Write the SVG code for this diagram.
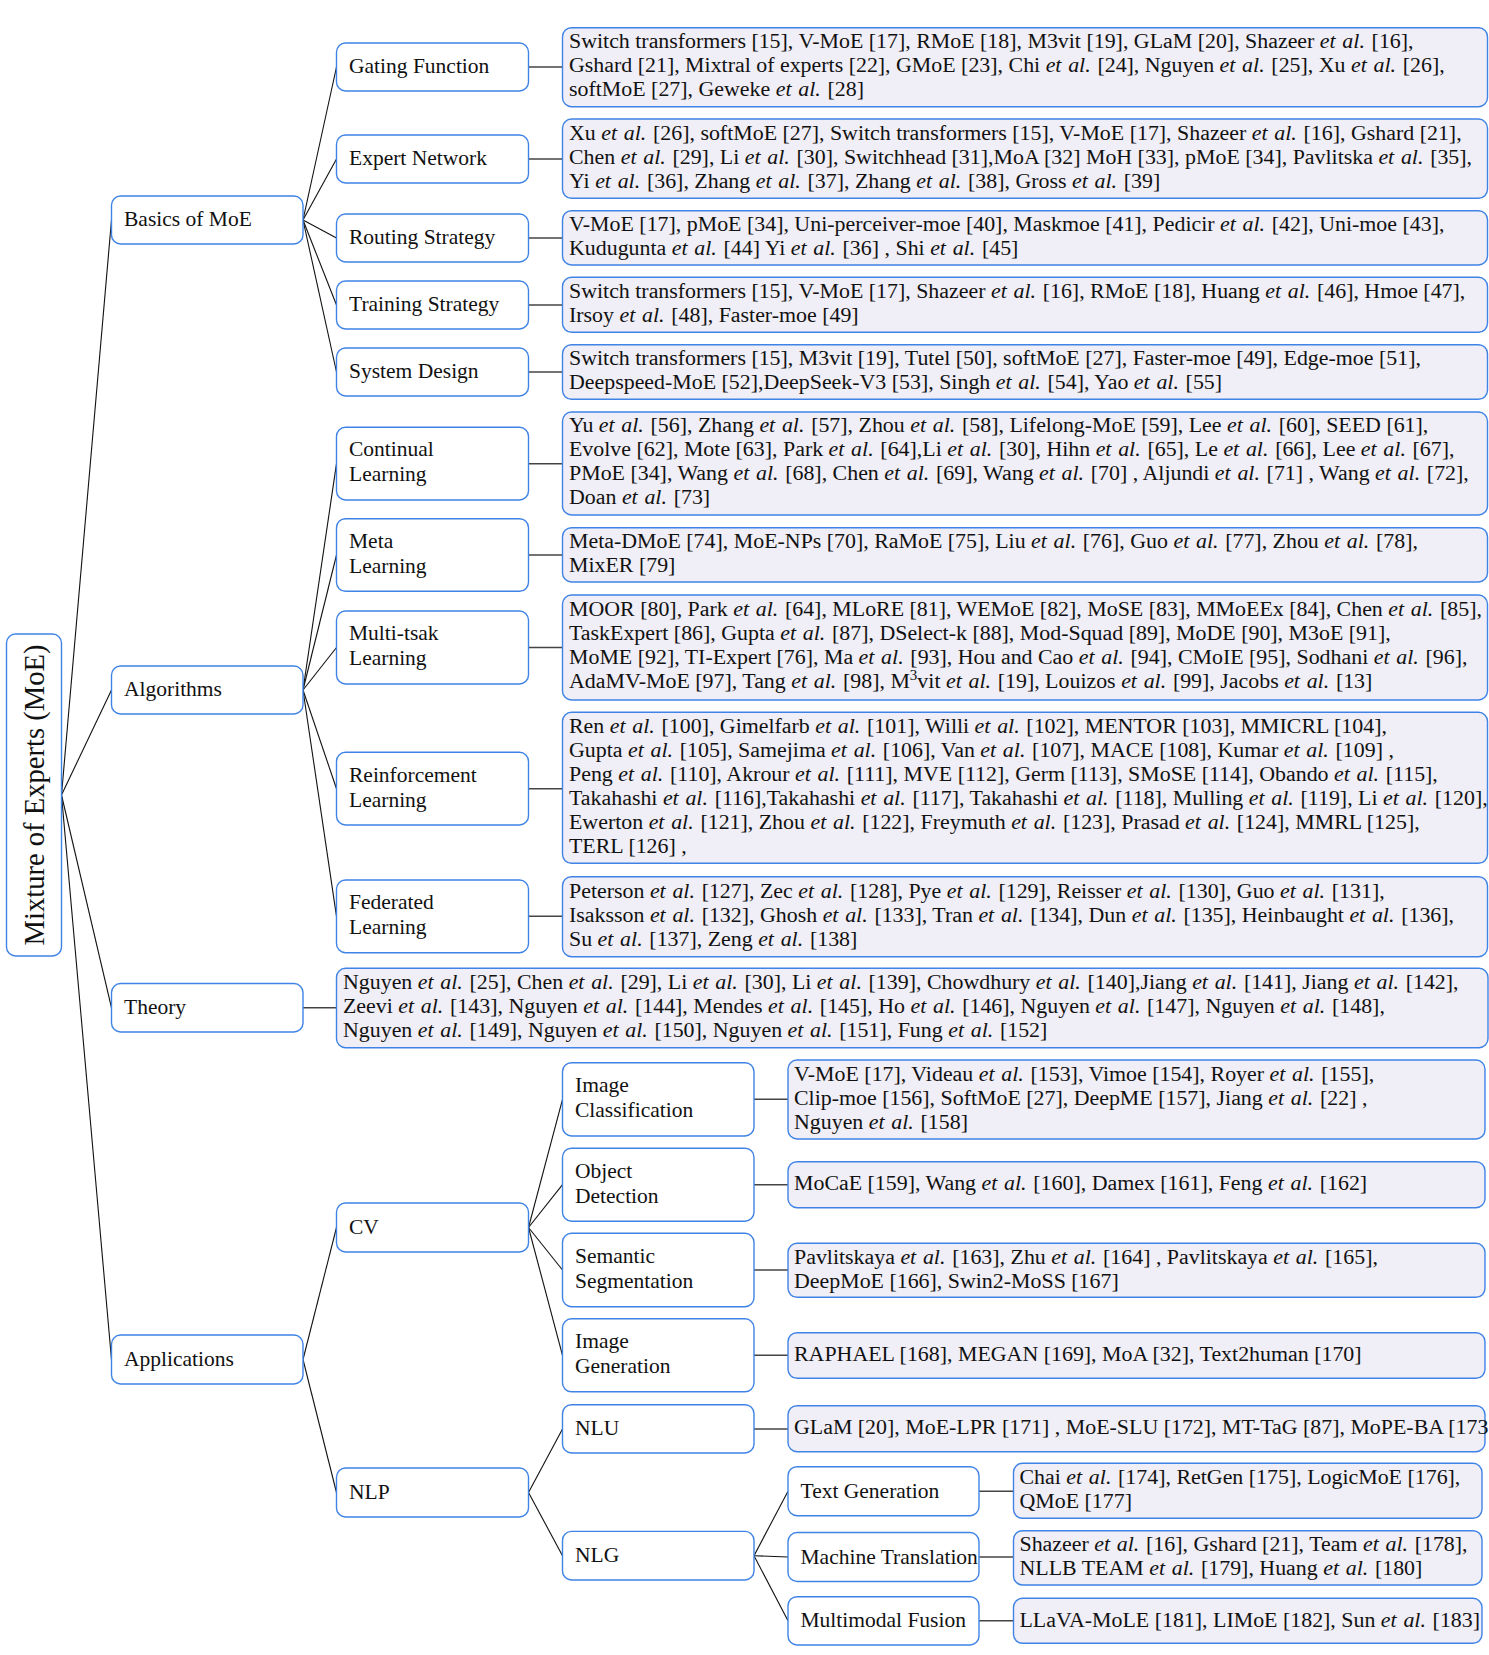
<svg xmlns="http://www.w3.org/2000/svg" width="1489" height="1655" viewBox="0 0 1489 1655">
  <style>
    .node { fill: #ffffff; stroke: #3f83e6; stroke-width: 1.4; }
    .leaf { fill: #f0eef6; stroke: #3f83e6; stroke-width: 1.4; }
    .lbl { font-family: "Liberation Serif", "Times New Roman", serif; font-size: 21.5px; fill: #111; }
    .ref { font-family: "Liberation Serif", "Times New Roman", serif; font-size: 21.9px; fill: #111; }
    /* "et al. " carries its trailing space; the extra word spacing mimics sentence spacing after the period */
    .it { font-style: italic; word-spacing: 1.25px; }
    .tree { stroke: #111; stroke-width: 1.1; fill: none; }
    .stub { stroke: #444; stroke-width: 1.5; fill: none; }
  </style>
  <rect width="1489" height="1655" fill="#ffffff"/>

  <!-- connectors -->
  <g id="connectors">
    <g class="tree">
      <!-- root to first level -->
      <line x1="61.5" y1="795" x2="111.5" y2="220"/>
      <line x1="61.5" y1="795" x2="111.5" y2="690"/>
      <line x1="61.5" y1="795" x2="111.5" y2="1007.8"/>
      <line x1="61.5" y1="795" x2="111.5" y2="1359.5"/>
      <!-- basics -->
      <line x1="303" y1="220" x2="336.5" y2="67"/>
      <line x1="303" y1="220" x2="336.5" y2="159"/>
      <line x1="303" y1="220" x2="336.5" y2="238"/>
      <line x1="303" y1="220" x2="336.5" y2="305"/>
      <line x1="303" y1="220" x2="336.5" y2="372"/>
      <!-- algorithms -->
      <line x1="303" y1="690" x2="336.5" y2="463.7"/>
      <line x1="303" y1="690" x2="336.5" y2="555"/>
      <line x1="303" y1="690" x2="336.5" y2="647.5"/>
      <line x1="303" y1="690" x2="336.5" y2="788.7"/>
      <line x1="303" y1="690" x2="336.5" y2="916.3"/>
      <!-- applications -->
      <line x1="303" y1="1359.5" x2="336.5" y2="1227.5"/>
      <line x1="303" y1="1359.5" x2="336.5" y2="1492.5"/>
      <!-- CV -->
      <line x1="528.5" y1="1227.5" x2="562.5" y2="1099.3"/>
      <line x1="528.5" y1="1227.5" x2="562.5" y2="1184.7"/>
      <line x1="528.5" y1="1227.5" x2="562.5" y2="1270"/>
      <line x1="528.5" y1="1227.5" x2="562.5" y2="1355.3"/>
      <!-- NLP -->
      <line x1="528.5" y1="1492.5" x2="562.5" y2="1428.9"/>
      <line x1="528.5" y1="1492.5" x2="562.5" y2="1555.7"/>
      <!-- NLG -->
      <line x1="754" y1="1555.7" x2="788" y2="1491.2"/>
      <line x1="754" y1="1555.7" x2="788" y2="1557"/>
      <line x1="754" y1="1555.7" x2="788" y2="1620.8"/>
    </g>
    <g class="stub">
      <line x1="528.5" y1="67" x2="562.5" y2="67"/>
      <line x1="528.5" y1="159" x2="562.5" y2="159"/>
      <line x1="528.5" y1="238" x2="562.5" y2="238"/>
      <line x1="528.5" y1="305" x2="562.5" y2="305"/>
      <line x1="528.5" y1="372" x2="562.5" y2="372"/>
      <line x1="528.5" y1="463.7" x2="562.5" y2="463.7"/>
      <line x1="528.5" y1="555" x2="562.5" y2="555"/>
      <line x1="528.5" y1="647.5" x2="562.5" y2="647.5"/>
      <line x1="528.5" y1="788.7" x2="562.5" y2="788.7"/>
      <line x1="528.5" y1="916.3" x2="562.5" y2="916.3"/>
      <line x1="303" y1="1007.8" x2="336.5" y2="1007.8"/>
      <line x1="754" y1="1099.3" x2="788" y2="1099.3"/>
      <line x1="754" y1="1184.7" x2="788" y2="1184.7"/>
      <line x1="754" y1="1270" x2="788" y2="1270"/>
      <line x1="754" y1="1355.3" x2="788" y2="1355.3"/>
      <line x1="754" y1="1428.9" x2="788" y2="1428.9"/>
      <line x1="979" y1="1491.2" x2="1013.5" y2="1491.2"/>
      <line x1="979" y1="1557" x2="1013.5" y2="1557"/>
      <line x1="979" y1="1620.8" x2="1013.5" y2="1620.8"/>
    </g>
  </g>

  <!-- root -->
  <g id="root">
    <rect class="node" x="6.5" y="634" width="55" height="322" rx="9"/>
    <text transform="translate(43.5,795) rotate(-90)" text-anchor="middle" font-family="Liberation Serif, Times New Roman, serif" font-size="28.6" fill="#111">Mixture of Experts (MoE)</text>
  </g>

  <!-- first level -->
  <g id="basics">
    <rect class="node" x="111.5" y="196" width="191.5" height="48" rx="9"/>
    <text class="lbl" x="124" y="226">Basics of MoE</text>
  </g>
  <g id="algorithms">
    <rect class="node" x="111.5" y="666" width="191.5" height="48" rx="9"/>
    <text class="lbl" x="124" y="696">Algorithms</text>
  </g>
  <g id="theory">
    <rect class="node" x="111.5" y="983.5" width="191.5" height="48.5" rx="9"/>
    <text class="lbl" x="124" y="1014">Theory</text>
  </g>
  <g id="applications">
    <rect class="node" x="111.5" y="1335" width="191.5" height="49" rx="9"/>
    <text class="lbl" x="124" y="1366">Applications</text>
  </g>

  <!-- basics children -->
  <g id="gating">
    <rect class="node" x="336.5" y="43" width="192" height="48" rx="9"/>
    <text class="lbl" x="349" y="73">Gating Function</text>
  </g>
  <g id="expert">
    <rect class="node" x="336.5" y="135" width="192" height="48" rx="9"/>
    <text class="lbl" x="349" y="165">Expert Network</text>
  </g>
  <g id="routing">
    <rect class="node" x="336.5" y="214" width="192" height="48" rx="9"/>
    <text class="lbl" x="349" y="244">Routing Strategy</text>
  </g>
  <g id="training">
    <rect class="node" x="336.5" y="281" width="192" height="48" rx="9"/>
    <text class="lbl" x="349" y="311">Training Strategy</text>
  </g>
  <g id="system">
    <rect class="node" x="336.5" y="348" width="192" height="48" rx="9"/>
    <text class="lbl" x="349" y="378">System Design</text>
  </g>

  <!-- algorithm children -->
  <g id="continual">
    <rect class="node" x="336.5" y="427.3" width="192" height="72.7" rx="9"/>
    <text class="lbl"><tspan x="349" y="456">Continual</tspan><tspan x="349" y="481">Learning</tspan></text>
  </g>
  <g id="meta">
    <rect class="node" x="336.5" y="518.7" width="192" height="72.6" rx="9"/>
    <text class="lbl"><tspan x="349" y="547.5">Meta</tspan><tspan x="349" y="572.5">Learning</tspan></text>
  </g>
  <g id="multitask">
    <rect class="node" x="336.5" y="611" width="192" height="73" rx="9"/>
    <text class="lbl"><tspan x="349" y="640">Multi-tsak</tspan><tspan x="349" y="665">Learning</tspan></text>
  </g>
  <g id="reinforcement">
    <rect class="node" x="336.5" y="752.3" width="192" height="72.7" rx="9"/>
    <text class="lbl"><tspan x="349" y="781.5">Reinforcement</tspan><tspan x="349" y="806.5">Learning</tspan></text>
  </g>
  <g id="federated">
    <rect class="node" x="336.5" y="880" width="192" height="72.7" rx="9"/>
    <text class="lbl"><tspan x="349" y="909">Federated</tspan><tspan x="349" y="934">Learning</tspan></text>
  </g>

  <!-- application children -->
  <g id="cv">
    <rect class="node" x="336.5" y="1203" width="192" height="49" rx="9"/>
    <text class="lbl" x="349" y="1234">CV</text>
  </g>
  <g id="nlp">
    <rect class="node" x="336.5" y="1468" width="192" height="49" rx="9"/>
    <text class="lbl" x="349" y="1499">NLP</text>
  </g>
  <g id="image-classification">
    <rect class="node" x="562.5" y="1062.7" width="191.5" height="73.3" rx="9"/>
    <text class="lbl"><tspan x="575" y="1092">Image</tspan><tspan x="575" y="1117">Classification</tspan></text>
  </g>
  <g id="object-detection">
    <rect class="node" x="562.5" y="1148.2" width="191.5" height="73" rx="9"/>
    <text class="lbl"><tspan x="575" y="1177.5">Object</tspan><tspan x="575" y="1202.5">Detection</tspan></text>
  </g>
  <g id="semantic-segmentation">
    <rect class="node" x="562.5" y="1233.3" width="191.5" height="73.4" rx="9"/>
    <text class="lbl"><tspan x="575" y="1262.5">Semantic</tspan><tspan x="575" y="1287.5">Segmentation</tspan></text>
  </g>
  <g id="image-generation">
    <rect class="node" x="562.5" y="1318.8" width="191.5" height="73" rx="9"/>
    <text class="lbl"><tspan x="575" y="1348">Image</tspan><tspan x="575" y="1373">Generation</tspan></text>
  </g>
  <g id="nlu">
    <rect class="node" x="562.5" y="1404.7" width="191.5" height="48.3" rx="9"/>
    <text class="lbl" x="575" y="1435">NLU</text>
  </g>
  <g id="nlg">
    <rect class="node" x="562.5" y="1531.4" width="191.5" height="48.6" rx="9"/>
    <text class="lbl" x="575" y="1562">NLG</text>
  </g>
  <g id="text-generation">
    <rect class="node" x="788" y="1466.7" width="191" height="49" rx="9"/>
    <text class="lbl" x="800.5" y="1497.5">Text Generation</text>
  </g>
  <g id="machine-translation">
    <rect class="node" x="788" y="1532.5" width="191" height="49" rx="9"/>
    <text class="lbl" x="800.5" y="1563.5">Machine Translation</text>
  </g>
  <g id="multimodal-fusion">
    <rect class="node" x="788" y="1596.7" width="191" height="48.3" rx="9"/>
    <text class="lbl" x="800.5" y="1627">Multimodal Fusion</text>
  </g>

  <!-- reference lists -->
  <g id="gating-refs">
    <rect class="leaf" x="562.5" y="27.7" width="925" height="79" rx="9"/>
    <text class="ref">
      <tspan x="569" y="48">Switch transformers [15], V-MoE [17], RMoE [18], M3vit [19], GLaM [20], Shazeer <tspan class="it">et al. </tspan>[16],</tspan>
      <tspan x="569" y="72">Gshard [21], Mixtral of experts [22], GMoE [23], Chi <tspan class="it">et al. </tspan>[24], Nguyen <tspan class="it">et al. </tspan>[25], Xu <tspan class="it">et al. </tspan>[26],</tspan>
      <tspan x="569" y="96">softMoE [27], Geweke <tspan class="it">et al. </tspan>[28]</tspan>
    </text>
  </g>
  <g id="expert-refs">
    <rect class="leaf" x="562.5" y="119" width="925" height="79.3" rx="9"/>
    <text class="ref">
      <tspan x="569" y="139.5">Xu <tspan class="it">et al. </tspan>[26], softMoE [27], Switch transformers [15], V-MoE [17], Shazeer <tspan class="it">et al. </tspan>[16], Gshard [21],</tspan>
      <tspan x="569" y="163.5">Chen <tspan class="it">et al. </tspan>[29], Li <tspan class="it">et al. </tspan>[30], Switchhead [31],MoA [32] MoH [33], pMoE [34], Pavlitska <tspan class="it">et al. </tspan>[35],</tspan>
      <tspan x="569" y="187.5">Yi <tspan class="it">et al. </tspan>[36], Zhang <tspan class="it">et al. </tspan>[37], Zhang <tspan class="it">et al. </tspan>[38], Gross <tspan class="it">et al. </tspan>[39]</tspan>
    </text>
  </g>
  <g id="routing-refs">
    <rect class="leaf" x="562.5" y="210.7" width="925" height="54.3" rx="9"/>
    <text class="ref">
      <tspan x="569" y="231">V-MoE [17], pMoE [34], Uni-perceiver-moe [40], Maskmoe [41], Pedicir <tspan class="it">et al. </tspan>[42], Uni-moe [43],</tspan>
      <tspan x="569" y="255">Kudugunta <tspan class="it">et al. </tspan>[44] Yi <tspan class="it">et al. </tspan>[36] , Shi <tspan class="it">et al. </tspan>[45]</tspan>
    </text>
  </g>
  <g id="training-refs">
    <rect class="leaf" x="562.5" y="277.3" width="925" height="55" rx="9"/>
    <text class="ref">
      <tspan x="569" y="298">Switch transformers [15], V-MoE [17], Shazeer <tspan class="it">et al. </tspan>[16], RMoE [18], Huang <tspan class="it">et al. </tspan>[46], Hmoe [47],</tspan>
      <tspan x="569" y="322">Irsoy <tspan class="it">et al. </tspan>[48], Faster-moe [49]</tspan>
    </text>
  </g>
  <g id="system-refs">
    <rect class="leaf" x="562.5" y="344.7" width="925" height="54.6" rx="9"/>
    <text class="ref">
      <tspan x="569" y="365">Switch transformers [15], M3vit [19], Tutel [50], softMoE [27], Faster-moe [49], Edge-moe [51],</tspan>
      <tspan x="569" y="389">Deepspeed-MoE [52],DeepSeek-V3 [53], Singh <tspan class="it">et al. </tspan>[54], Yao <tspan class="it">et al. </tspan>[55]</tspan>
    </text>
  </g>
  <g id="continual-refs">
    <rect class="leaf" x="562.5" y="412" width="925" height="103" rx="9"/>
    <text class="ref">
      <tspan x="569" y="432">Yu <tspan class="it">et al. </tspan>[56], Zhang <tspan class="it">et al. </tspan>[57], Zhou <tspan class="it">et al. </tspan>[58], Lifelong-MoE [59], Lee <tspan class="it">et al. </tspan>[60], SEED [61],</tspan>
      <tspan x="569" y="456">Evolve [62], Mote [63], Park <tspan class="it">et al. </tspan>[64],Li <tspan class="it">et al. </tspan>[30], Hihn <tspan class="it">et al. </tspan>[65], Le <tspan class="it">et al. </tspan>[66], Lee <tspan class="it">et al. </tspan>[67],</tspan>
      <tspan x="569" y="480">PMoE [34], Wang <tspan class="it">et al. </tspan>[68], Chen <tspan class="it">et al. </tspan>[69], Wang <tspan class="it">et al. </tspan>[70] , Aljundi <tspan class="it">et al. </tspan>[71] , Wang <tspan class="it">et al. </tspan>[72],</tspan>
      <tspan x="569" y="504">Doan <tspan class="it">et al. </tspan>[73]</tspan>
    </text>
  </g>
  <g id="meta-refs">
    <rect class="leaf" x="562.5" y="527.7" width="925" height="54.3" rx="9"/>
    <text class="ref">
      <tspan x="569" y="548">Meta-DMoE [74], MoE-NPs [70], RaMoE [75], Liu <tspan class="it">et al. </tspan>[76], Guo <tspan class="it">et al. </tspan>[77], Zhou <tspan class="it">et al. </tspan>[78],</tspan>
      <tspan x="569" y="572">MixER [79]</tspan>
    </text>
  </g>
  <g id="multitask-refs">
    <rect class="leaf" x="562.5" y="595" width="925" height="105" rx="9"/>
    <text class="ref">
      <tspan x="569" y="616">MOOR [80], Park <tspan class="it">et al. </tspan>[64], MLoRE [81], WEMoE [82], MoSE [83], MMoEEx [84], Chen <tspan class="it">et al. </tspan>[85],</tspan>
      <tspan x="569" y="640">TaskExpert [86], Gupta <tspan class="it">et al. </tspan>[87], DSelect-k [88], Mod-Squad [89], MoDE [90], M3oE [91],</tspan>
      <tspan x="569" y="664">MoME [92], TI-Expert [76], Ma <tspan class="it">et al. </tspan>[93], Hou and Cao <tspan class="it">et al. </tspan>[94], CMoIE [95], Sodhani <tspan class="it">et al. </tspan>[96],</tspan>
      <tspan x="569" y="688">AdaMV-MoE [97], Tang <tspan class="it">et al. </tspan>[98], M<tspan dy="-8" font-size="15">3</tspan><tspan dy="8">vit </tspan><tspan class="it">et al. </tspan>[19], Louizos <tspan class="it">et al. </tspan>[99], Jacobs <tspan class="it">et al. </tspan>[13]</tspan>
    </text>
  </g>
  <g id="reinforcement-refs">
    <rect class="leaf" x="562.5" y="712.3" width="925" height="151" rx="9"/>
    <text class="ref">
      <tspan x="569" y="732.8">Ren <tspan class="it">et al. </tspan>[100], Gimelfarb <tspan class="it">et al. </tspan>[101], Willi <tspan class="it">et al. </tspan>[102], MENTOR [103], MMICRL [104],</tspan>
      <tspan x="569" y="756.8">Gupta <tspan class="it">et al. </tspan>[105], Samejima <tspan class="it">et al. </tspan>[106], Van <tspan class="it">et al. </tspan>[107], MACE [108], Kumar <tspan class="it">et al. </tspan>[109] ,</tspan>
      <tspan x="569" y="780.8">Peng <tspan class="it">et al. </tspan>[110], Akrour <tspan class="it">et al. </tspan>[111], MVE [112], Germ [113], SMoSE [114], Obando <tspan class="it">et al. </tspan>[115],</tspan>
      <tspan x="569" y="804.8">Takahashi <tspan class="it">et al. </tspan>[116],Takahashi <tspan class="it">et al. </tspan>[117], Takahashi <tspan class="it">et al. </tspan>[118], Mulling <tspan class="it">et al. </tspan>[119], Li <tspan class="it">et al. </tspan>[120],</tspan>
      <tspan x="569" y="828.8">Ewerton <tspan class="it">et al. </tspan>[121], Zhou <tspan class="it">et al. </tspan>[122], Freymuth <tspan class="it">et al. </tspan>[123], Prasad <tspan class="it">et al. </tspan>[124], MMRL [125],</tspan>
      <tspan x="569" y="852.8">TERL [126] ,</tspan>
    </text>
  </g>
  <g id="federated-refs">
    <rect class="leaf" x="562.5" y="876.7" width="925" height="80" rx="9"/>
    <text class="ref">
      <tspan x="569" y="897.5">Peterson <tspan class="it">et al. </tspan>[127], Zec <tspan class="it">et al. </tspan>[128], Pye <tspan class="it">et al. </tspan>[129], Reisser <tspan class="it">et al. </tspan>[130], Guo <tspan class="it">et al. </tspan>[131],</tspan>
      <tspan x="569" y="921.5">Isaksson <tspan class="it">et al. </tspan>[132], Ghosh <tspan class="it">et al. </tspan>[133], Tran <tspan class="it">et al. </tspan>[134], Dun <tspan class="it">et al. </tspan>[135], Heinbaught <tspan class="it">et al. </tspan>[136],</tspan>
      <tspan x="569" y="945.5">Su <tspan class="it">et al. </tspan>[137], Zeng <tspan class="it">et al. </tspan>[138]</tspan>
    </text>
  </g>
  <g id="theory-refs">
    <rect class="leaf" x="336.5" y="968.3" width="1151.5" height="79.4" rx="9"/>
    <text class="ref">
      <tspan x="343" y="989">Nguyen <tspan class="it">et al. </tspan>[25], Chen <tspan class="it">et al. </tspan>[29], Li <tspan class="it">et al. </tspan>[30], Li <tspan class="it">et al. </tspan>[139], Chowdhury <tspan class="it">et al. </tspan>[140],Jiang <tspan class="it">et al. </tspan>[141], Jiang <tspan class="it">et al. </tspan>[142],</tspan>
      <tspan x="343" y="1013">Zeevi <tspan class="it">et al. </tspan>[143], Nguyen <tspan class="it">et al. </tspan>[144], Mendes <tspan class="it">et al. </tspan>[145], Ho <tspan class="it">et al. </tspan>[146], Nguyen <tspan class="it">et al. </tspan>[147], Nguyen <tspan class="it">et al. </tspan>[148],</tspan>
      <tspan x="343" y="1037">Nguyen <tspan class="it">et al. </tspan>[149], Nguyen <tspan class="it">et al. </tspan>[150], Nguyen <tspan class="it">et al. </tspan>[151], Fung <tspan class="it">et al. </tspan>[152]</tspan>
    </text>
  </g>
  <g id="image-classification-refs">
    <rect class="leaf" x="788" y="1060" width="697" height="79" rx="9"/>
    <text class="ref">
      <tspan x="794" y="1080.5">V-MoE [17], Videau <tspan class="it">et al. </tspan>[153], Vimoe [154], Royer <tspan class="it">et al. </tspan>[155],</tspan>
      <tspan x="794" y="1104.5">Clip-moe [156], SoftMoE [27], DeepME [157], Jiang <tspan class="it">et al. </tspan>[22] ,</tspan>
      <tspan x="794" y="1128.5">Nguyen <tspan class="it">et al. </tspan>[158]</tspan>
    </text>
  </g>
  <g id="object-detection-refs">
    <rect class="leaf" x="788" y="1161.7" width="697" height="46" rx="9"/>
    <text class="ref" x="794" y="1190">MoCaE [159], Wang <tspan class="it">et al. </tspan>[160], Damex [161], Feng <tspan class="it">et al. </tspan>[162]</text>
  </g>
  <g id="semantic-segmentation-refs">
    <rect class="leaf" x="788" y="1243.3" width="697" height="54" rx="9"/>
    <text class="ref">
      <tspan x="794" y="1263.5">Pavlitskaya <tspan class="it">et al. </tspan>[163], Zhu <tspan class="it">et al. </tspan>[164] , Pavlitskaya <tspan class="it">et al. </tspan>[165],</tspan>
      <tspan x="794" y="1287.5">DeepMoE [166], Swin2-MoSS [167]</tspan>
    </text>
  </g>
  <g id="image-generation-refs">
    <rect class="leaf" x="788" y="1332.7" width="697" height="45.6" rx="9"/>
    <text class="ref" x="794" y="1361">RAPHAEL [168], MEGAN [169], MoA [32], Text2human [170]</text>
  </g>
  <g id="nlu-refs">
    <rect class="leaf" x="788" y="1405.7" width="697" height="46" rx="9"/>
    <text class="ref" x="794" y="1434">GLaM [20], MoE-LPR [171] , MoE-SLU [172], MT-TaG [87], MoPE-BA [173</text>
  </g>
  <g id="text-generation-refs">
    <rect class="leaf" x="1013.5" y="1463.3" width="468.5" height="55" rx="9"/>
    <text class="ref">
      <tspan x="1019.5" y="1484">Chai <tspan class="it">et al. </tspan>[174], RetGen [175], LogicMoE [176],</tspan>
      <tspan x="1019.5" y="1508">QMoE [177]</tspan>
    </text>
  </g>
  <g id="machine-translation-refs">
    <rect class="leaf" x="1013.5" y="1530.7" width="468.5" height="54.3" rx="9"/>
    <text class="ref">
      <tspan x="1019.5" y="1551">Shazeer <tspan class="it">et al. </tspan>[16], Gshard [21], Team <tspan class="it">et al. </tspan>[178],</tspan>
      <tspan x="1019.5" y="1575">NLLB TEAM <tspan class="it">et al. </tspan>[179], Huang <tspan class="it">et al. </tspan>[180]</tspan>
    </text>
  </g>
  <g id="multimodal-fusion-refs">
    <rect class="leaf" x="1013.5" y="1598.3" width="468.5" height="45" rx="9"/>
    <text class="ref" x="1019.5" y="1626.5">LLaVA-MoLE [181], LIMoE [182], Sun <tspan class="it">et al. </tspan>[183]</text>
  </g>
</svg>
